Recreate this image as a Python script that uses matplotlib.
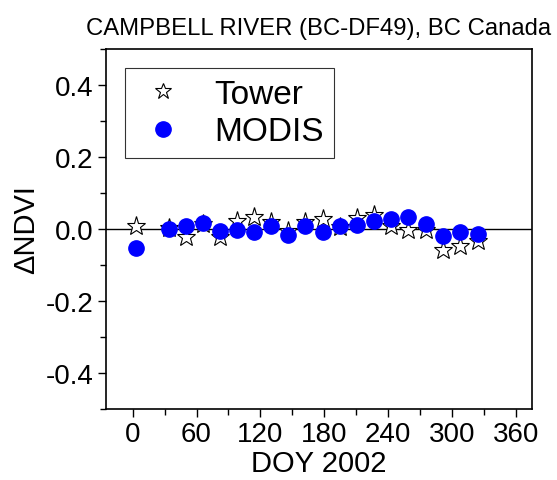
import matplotlib
matplotlib.use("Agg")
import matplotlib.pyplot as plt
from matplotlib.ticker import MultipleLocator

plt.rcParams['font.family'] = ['Liberation Sans', 'DejaVu Sans']

# day of year for each 16-day composite
doy = [3, 34, 50, 66, 82, 98, 114, 130, 146, 162, 179, 195, 211, 227, 243, 259, 275, 291, 307, 324]
# delta NDVI
tower = [0.009, 0.002, -0.023, 0.015, -0.021, 0.021, 0.032, 0.019, -0.005, 0.020,
         0.028, 0.005, 0.031, 0.040, 0.007, -0.003, -0.003, -0.058, -0.046, -0.032]
modis = [-0.054, 0.001, 0.009, 0.016, -0.005, -0.004, -0.009, 0.007, -0.017, 0.007,
         -0.007, 0.009, 0.012, 0.021, 0.028, 0.034, 0.014, -0.020, -0.009, -0.014]

title = "CAMPBELL RIVER (BC-DF49), BC Canada"

fig = plt.figure(figsize=(5.57, 4.81), dpi=100)
ax = fig.add_axes([106 / 557, 71 / 481, 426 / 557, 360 / 481])

ax.axhline(0, color="black", lw=1.0, zorder=1)
ax.plot(doy, tower, ls="none", marker="*", ms=14, mfc="white", mec="black",
        mew=0.8, label="Tower", zorder=2)
ax.plot(doy, modis, ls="none", marker="o", ms=11, mfc="blue", mec="blue",
        label="MODIS", zorder=3)

ax.set_xlim(-25, 375)
ax.set_ylim(-0.5, 0.5)
ax.xaxis.set_major_locator(MultipleLocator(60))
ax.xaxis.set_minor_locator(MultipleLocator(30))
ax.yaxis.set_major_locator(MultipleLocator(0.2))
ax.yaxis.set_minor_locator(MultipleLocator(0.1))
ax.set_yticks([-0.4, -0.2, 0.0, 0.2, 0.4])
ax.set_yticklabels(["-0.4", "-0.2", "0.0", "0.2", "0.4"])
ax.tick_params(which="major", direction="out", length=6, width=1.0, labelsize=20, pad=3)
ax.tick_params(which="minor", direction="out", length=4, width=1.0)
for s in ax.spines.values():
    s.set_linewidth(1.2)

ax.set_xlabel("DOY 2002", fontsize=21, labelpad=1)
ax.set_ylabel("\u0394NDVI", fontsize=21, labelpad=4)
ax.set_title(title, fontsize=17.2, pad=11)

leg = ax.legend(loc="upper left", bbox_to_anchor=(0.045, 0.947), borderaxespad=0,
                fontsize=24, frameon=True, fancybox=False, edgecolor="black",
                handletextpad=0.75, labelspacing=0.2, borderpad=0.32,
                handlelength=1.6, markerscale=1.0)
leg.get_frame().set_linewidth(0.8)
leg.legend_handles[0].set_markersize(12)

fig.savefig("out.png", dpi=100)
